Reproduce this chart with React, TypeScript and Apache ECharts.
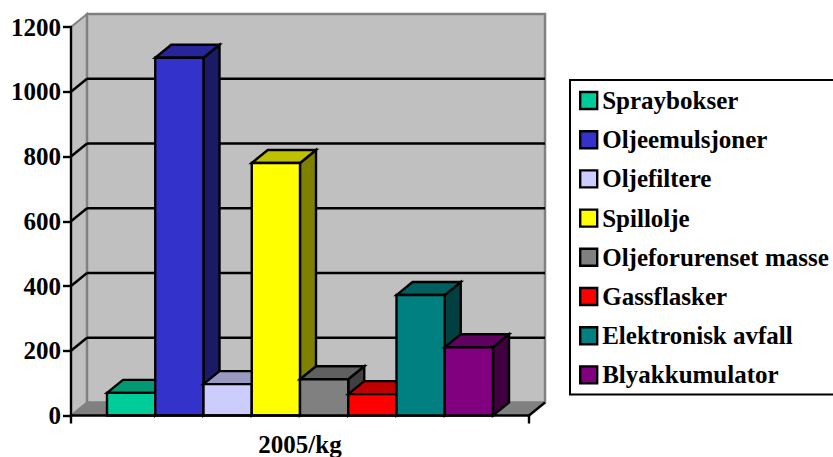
import React, { useEffect, useRef } from "react";
import * as echarts from "echarts";

const categories = ["2005/kg"];
const seriesNames = ["Spraybokser", "Oljeemulsjoner", "Oljefiltere", "Spillolje", "Oljeforurenset masse", "Gassflasker", "Elektronisk avfall", "Blyakkumulator"];
const seriesValues = [70, 1105, 97, 780, 112, 66, 372, 211];
const frontColors = ["#00CC99", "#3333CC", "#CCCCFF", "#FFFF00", "#808080", "#FF0000", "#008080", "#800080"];
const topColors = ["#009973", "#26269A", "#9999C0", "#C0C000", "#606060", "#C00000", "#006060", "#600060"];
const sideColors = ["#006650", "#1A1A66", "#666680", "#808000", "#404040", "#800000", "#004040", "#400040"];
const gridValues = [200, 400, 600, 800, 1000];
const FONT = "Liberation Serif";
const DX = 16;
const DY = 13;
const BAR_W = 48.25;
const LINE = 2.4;

const poly = (points: number[][], fill: string, stroke: string, lineWidth = LINE) => ({
  type: "polygon",
  shape: { points },
  style: { fill, stroke, lineWidth, lineJoin: "miter" },
});
const seg = (a: number[], b: number[], stroke: string, lineWidth = LINE) => ({
  type: "line",
  shape: { x1: a[0], y1: a[1], x2: b[0], y2: b[1] },
  style: { stroke, lineWidth },
});

function renderWalls(params: any, api: any) {
  const g = params.coordSys;
  const L = g.x, R = g.x + g.width;
  const B = api.coord([0, 0])[1], T = api.coord([0, 1200])[1];
  const children: any[] = [
    poly([[L, T], [L + DX, T - DY], [L + DX, B - DY], [L, B]], "#C0C0C0", "#808080", 2),
    poly([[L + DX, T - DY], [R + DX, T - DY], [R + DX, B - DY], [L + DX, B - DY]], "#C0C0C0", "#808080", 2.5),
    poly([[L, B], [L + DX, B - DY], [R + DX, B - DY], [R, B]], "#808080", "#808080", 1),
  ];
  gridValues.forEach((v) => {
    const y = api.coord([0, v])[1];
    children.push(seg([L, y], [L + DX, y - DY], "#000"));
    children.push(seg([L + DX, y - DY], [R + DX, y - DY], "#000"));
  });
  children.push(seg([R, B], [R + DX, B - DY], "#000"));
  return { type: "group", children };
}

const renderBar = (i: number) => (params: any, api: any) => {
  const [cx, yTop] = api.coord([0, api.value(1)]);
  const yBot = api.coord([0, 0])[1];
  const x0 = cx + (i - seriesNames.length / 2) * BAR_W;
  const x1 = x0 + BAR_W;
  return {
    type: "group",
    children: [
      poly([[x1, yTop], [x1 + DX, yTop - DY], [x1 + DX, yBot - DY], [x1, yBot]], sideColors[i], "#000"),
      poly([[x0, yTop], [x0 + DX, yTop - DY], [x1 + DX, yTop - DY], [x1, yTop]], topColors[i], "#000"),
      poly([[x0, yTop], [x1, yTop], [x1, yBot], [x0, yBot]], frontColors[i], "#000"),
    ],
  };
};

export default function App() {
  const ref = useRef<HTMLDivElement>(null);
  useEffect(() => {
    const chart = echarts.init(ref.current!, undefined, { renderer: "svg" });
    chart.setOption({
      animation: false,
      backgroundColor: "#fff",
      textStyle: { fontFamily: FONT },
      grid: { left: 71, right: 304, top: 27, bottom: 40, containLabel: false },
      legend: {
        orient: "vertical",
        left: 570,
        top: 80,
        padding: [8, 60, 7, 9],
        itemWidth: 17,
        itemHeight: 17,
        itemGap: 14.2,
        borderColor: "#000",
        borderWidth: 2,
        backgroundColor: "#fff",
        selectedMode: false,
        icon: "rect",
        textStyle: { fontFamily: FONT, fontWeight: "bold", fontSize: 25, color: "#000", lineHeight: 25 },
        data: seriesNames.map((name, i) => ({
          name,
          icon: "rect",
          itemStyle: { color: frontColors[i], borderColor: "#000", borderWidth: 2.4 },
        })),
      },
      xAxis: {
        type: "category",
        data: categories,
        z: 5,
        axisLine: { lineStyle: { color: "#000", width: 2.6 } },
        axisTick: { show: true, length: 8, alignWithLabel: false, lineStyle: { color: "#000", width: 2.4 } },
        axisLabel: { color: "#000", fontFamily: FONT, fontWeight: "bold", fontSize: 25, margin: 16.5 },
      },
      yAxis: {
        type: "value",
        min: 0,
        max: 1200,
        interval: 200,
        z: 5,
        splitLine: { show: false },
        axisLine: { show: true, lineStyle: { color: "#000", width: 2.4 } },
        axisTick: { show: true, length: 8, lineStyle: { color: "#000", width: 2.4 } },
        axisLabel: { color: "#000", fontFamily: FONT, fontWeight: "bold", fontSize: 25, margin: 10, formatter: (v: number) => String(v) },
      },
      series: [
        {
          type: "custom",
          name: "walls",
          silent: true,
          z: 1,
          clip: false,
          renderItem: renderWalls,
          data: [[0, 0]],
          encode: { x: 0, y: 1 },
        },
        ...seriesNames.map((name, i) => ({
          type: "custom",
          name,
          z: 2 + i,
          clip: false,
          renderItem: renderBar(i),
          itemStyle: { color: frontColors[i], borderColor: "#000", borderWidth: 2 },
          data: [[0, seriesValues[i]]],
          encode: { x: 0, y: 1 },
        })),
      ],
    });
    return () => chart.dispose();
  }, []);
  return <div ref={ref} style={{ position: "fixed", left: 0, top: 0, width: 833, height: 457 }} />;
}
